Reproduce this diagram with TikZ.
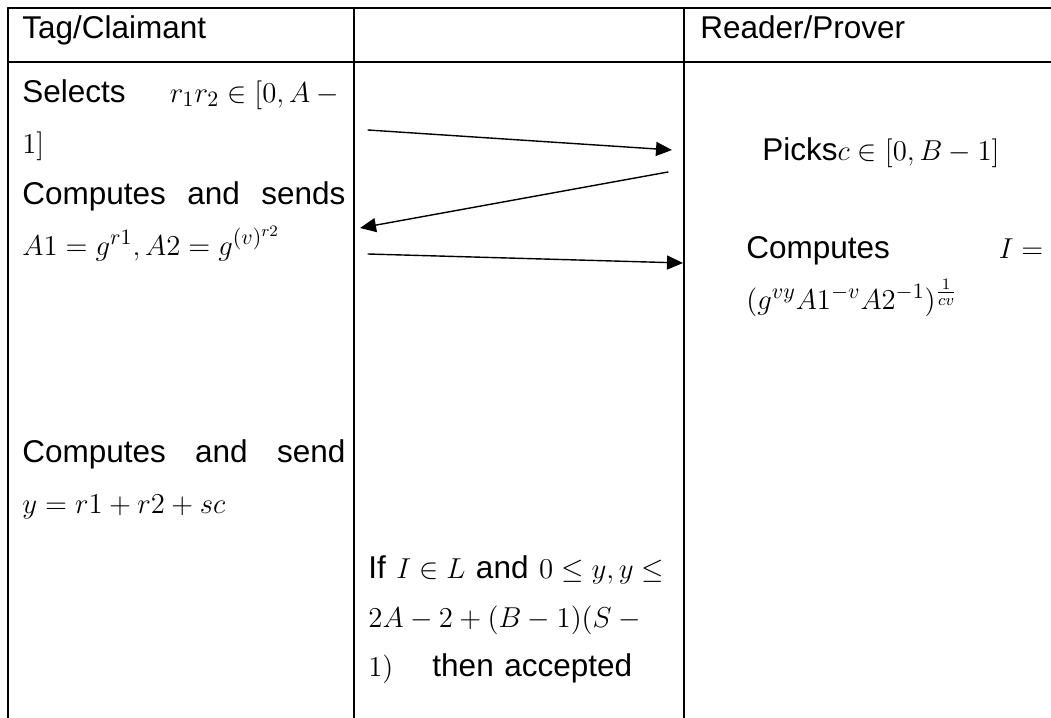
\documentclass[tikz,border=0pt]{standalone}
\usepackage{amsmath}
\usepackage{amssymb}
\usepackage{fontspec}
\setmainfont{Liberation Sans}
\usepackage{tikz}
\usepackage{tkz-euclide}
\usetikzlibrary{calc}
\usetikzlibrary{arrows.meta}

\tikzset{
    cell/.style={anchor=base west,inner sep=0pt,align=left,
        font=\fontsize{15.75}{25.5}\selectfont},
    msg/.style={line width=0.7pt,-{Triangle[length=8pt,width=7pt]}}
}

\begin{document}
\begin{tikzpicture}[x=0.5pt,y=-0.5pt]
                \useasboundingbox (0,0) rectangle (1051,718);

                \tkzDefPoint(8,8){TL}
                \tkzDefPoint(1051,8){TR}
                \tkzDefPoint(8,62){HL}
                \tkzDefPoint(1051,62){HR}
                \tkzDefPoint(8,718){BL}

                \tkzDefPoint(354,8){C1}
                \tkzDefPoint(354,718){D1}
                \tkzDefPoint(684,8){C2}
                \tkzDefPoint(684,718){D2}

                \tkzDrawSegments[line width=1pt](TL,TR HL,HR TL,BL C1,D1 C2,D2)

                % messages between tag and reader
                \tkzDefPoint(368,130){S1}
                \tkzDefPoint(672,150){E1}
                \tkzDefPoint(668,172){S2}
                \tkzDefPoint(360,228){E2}
                \tkzDefPoint(368,254){S3}
                \tkzDefPoint(683,263){E3}

                \tkzDrawSegment[msg](S1,E1)
                \tkzDrawSegment[msg](S2,E2)
                \tkzDrawSegment[msg](S3,E3)

                \node[cell] (tag) at (22,38) {Tag/Claimant};
                \node[cell] (rdr) at (700,38) {Reader/Prover};

                \node[cell,text width=161.5pt] (sel) at (22,102)
                    {Selects\hfill$r_1r_2\in[0,A-{}$\\
                     $1]$\\
                     Computes\hfill and\hfill sends\\
                     $A1=g^{r1},A2=g^{(v)^{r2}}$};
                \node[cell,text width=161.5pt] (snd) at (22,462)
                    {Computes\hfill and\hfill send\\
                     $y=r1+r2+sc$};

                \node[cell,text width=170pt,font=\fontsize{15.75}{24.5}\selectfont] (chk) at (368,578)
                    {\mbox{If $I\in L$ and $0\le y,y\le$}\\
                     \mbox{$2A-2+(B-1)(S-{}$}\\
                     \mbox{$1)$\hspace{19.5pt}then accepted}};

                \node[cell] (pck) at (762,160) {Picks$c\in[0,B-1]$};
                \node[cell,text width=148.5pt] (cmp) at (746,258)
                    {Computes\hfill$I=$\\
                     $(g^{vy}A1^{-v}A2^{-1})^{\frac{1}{cv}}$};
            \end{tikzpicture}
\end{document}
